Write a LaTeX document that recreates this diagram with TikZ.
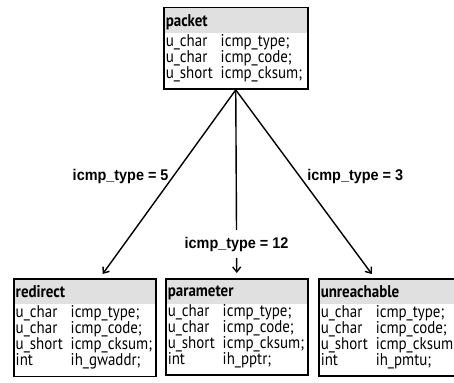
\documentclass[tikz,border=0pt]{standalone}
\usepackage{fontspec}
\newfontfamily\boxfont{PT Sans}[FakeStretch=0.88]
\newfontfamily\condfont{Liberation Sans}[FakeStretch=0.93]
\usetikzlibrary{arrows.meta}
\usetikzlibrary{positioning}

% one member line of a struct: type, then name
\newcommand{\member}[2]{\makebox[55pt][l]{#1}#2}

\begin{document}
\begin{tikzpicture}[x=1pt,y=-1pt,
    icmpbox/.style={draw, line width=1.5pt, anchor=north west, inner xsep=2pt, inner ysep=7pt,
      text width=#1, align=left, font=\boxfont\fontsize{17}{16}\selectfont,
      path picture={\fill[black!12] (path picture bounding box.north west)
        rectangle ([yshift=-25pt]path picture bounding box.north east);}},
    cond/.style={font=\condfont\bfseries\fontsize{15.5}{16}\selectfont, inner sep=0pt},
    link/.style={-{Straight Barb[length=5pt,width=8pt]}, line width=1.4pt, shorten >=5pt}]
	\useasboundingbox (0,0) rectangle (454,382);

	%% structs
	\node[icmpbox=140pt] (packet) at (163,7) {\textbf{packet}\\[4pt]
		\member{u\_char}{icmp\_type;}\\
		\member{u\_char}{icmp\_code;}\\
		\member{u\_short}{icmp\_cksum;}};

	\node[icmpbox=138pt] (redirect) at (13,278) {\textbf{redirect}\\[4pt]
		\member{u\_char}{icmp\_type;}\\
		\member{u\_char}{icmp\_code;}\\
		\member{u\_short}{icmp\_cksum;}\\
		\member{int}{ih\_gwaddr;}};

	\node[icmpbox=138pt] (parameter) at (165,278) {\textbf{parameter}\\[4pt]
		\member{u\_char}{icmp\_type;}\\
		\member{u\_char}{icmp\_code;}\\
		\member{u\_short}{icmp\_cksum;}\\
		\member{int}{ih\_pptr;}};

	\node[icmpbox=138pt] (unreachable) at (318,278) {\textbf{unreachable}\\[4pt]
		\member{u\_char}{icmp\_type;}\\
		\member{u\_char}{icmp\_code;}\\
		\member{u\_short}{icmp\_cksum;}\\
		\member{int}{ih\_pmtu;}};

	%% type selection
	\draw[link] (packet.south) -- node[cond, pos=0.46, left=4pt] (type5) {icmp\_type = 5} ([xshift=15pt]redirect.north);
	\draw[link] (packet.south) -- node[cond, pos=0.82, fill=white, inner xsep=2pt, inner ysep=7pt] (type12) {icmp\_type = 12} (parameter.north);
	\draw[link] (packet.south) -- node[cond, pos=0.46, right=7pt] (type3) {icmp\_type = 3} ([xshift=-15pt]unreachable.north);
\end{tikzpicture}
\end{document}
